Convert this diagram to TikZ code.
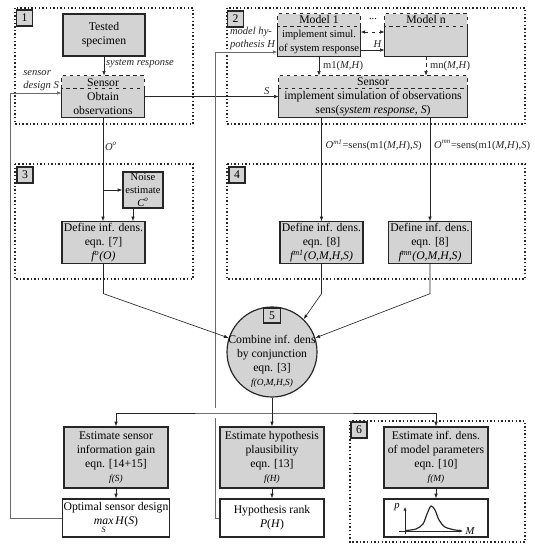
\documentclass[tikz,border=0pt]{standalone}
\usepackage{amsmath}
\usepackage{fontspec}
\setmainfont{Liberation Serif}
\usepackage{tikz}
\usetikzlibrary{arrows.meta,calc,positioning}
\definecolor{boxgray}{HTML}{D3D3D3}
\definecolor{inkline}{HTML}{262626}
\definecolor{softink}{HTML}{6A6A6A}

\tikzset{
  flowbox/.style={draw=inkline,line width=1pt,fill=boxgray,align=center,inner sep=1pt},
  resbox/.style={flowbox,fill=white},
  simbox/.style={fill=boxgray,align=center,inner sep=1pt},
  tag/.style={draw=inkline,line width=1pt,fill=boxgray,minimum size=0.48cm,inner sep=0pt},
  frame/.style={inkline,line width=1.1pt,dash pattern=on 1.2pt off 1.9pt},
  conn/.style={-{Latex[length=4pt,width=3pt]},inkline,line width=0.55pt},
  twoway/.style={conn,{Latex[length=4pt,width=3pt]}-{Latex[length=4pt,width=3pt]}},
  feedback/.style={conn,softink},
  lbl/.style={font=\small\itshape,text=inkline,inner sep=1.5pt}
}

\begin{document}
\begin{tikzpicture}[x=0.03cm,y=-0.03cm]
    \useasboundingbox (0,0) rectangle (535,550);

    % dotted groups
    \draw[frame] (15,8) rectangle (193,124);
    \draw[frame] (227,8) rectangle (525,124);
    \draw[frame] (15,164) rectangle (193,279);
    \draw[frame] (227,164) rectangle (525,279);
    \draw[frame] (350,421) rectangle (525,542);
    \node[tag] (tag1) at (24.5,18) {1};
    \node[tag] (tag2) at (235.5,19) {2};
    \node[tag] (tag3) at (25,175) {3};
    \node[tag] (tag4) at (237,175) {4};
    \node[tag] (tag6) at (359,430) {6};

    % experiment
    \node[flowbox,minimum width=2.46cm,minimum height=1.26cm] (specimen) at (104,35) {Tested\\specimen};
    \node[simbox,minimum width=2.46cm,minimum height=1.23cm] (sensobs) at (103,96.5) {Sensor\\Obtain\\observations};

    % models
    \node[simbox,minimum width=2.46cm,minimum height=1.26cm] (model1) at (319,35)
      {Model 1\\{\small implement simul.}\\{\small of system response}};
    \node[simbox,minimum width=2.46cm,minimum height=1.26cm] (modeln) at (426,35) {};
    \node[anchor=north,inner sep=1pt] (modelname) at (modeln.north) {Model n};
    \node[font=\small] (dots) at (373,19) {...};
    \node[simbox,minimum width=5.64cm,minimum height=1.23cm] (sensimpl) at (373,96.5)
      {Sensor\\implement simulation of observations\\sens(\textit{system response, S})};

    % boxes with a dashed sensor / model strip
    \foreach \n in {sensobs,sensimpl,model1,modeln} {
      \draw[inkline,line width=1pt] ($(\n.north west)+(0,13)$) |- (\n.south east) -- ($(\n.north east)+(0,13)$);
      \draw[inkline,line width=1pt,dashed] ($(\n.north west)+(0,13)$) rectangle (\n.north east);
    }

    % densities
    \node[flowbox,minimum width=1.2cm,minimum height=1.08cm,font=\small] (noise) at (143,190)
      {Noise\\estimate\\\textit{C\textsuperscript{o}}};
    \node[flowbox,minimum width=2.49cm,minimum height=1.23cm] (dens0) at (103.5,242.5)
      {Define inf. dens.\\eqn. [7]\\\textit{f\textsuperscript{o}(O)}};
    \node[flowbox,minimum width=2.49cm,minimum height=1.23cm] (dens1) at (321.5,242.5)
      {Define inf. dens.\\eqn. [8]\\\textit{f\textsuperscript{m1}(O,M,H,S)}};
    \node[flowbox,minimum width=2.49cm,minimum height=1.23cm] (densn) at (430,242.5)
      {Define inf. dens.\\eqn. [8]\\\textit{f\textsuperscript{mn}(O,M,H,S)}};

    % conjunction
    \node[circle,draw=inkline,line width=1pt,fill=boxgray,minimum size=2.7cm,inner sep=0pt] (combine) at (272,352) {};
    \node[align=center,inner sep=0pt] (combinetxt) at (272,361)
      {Combine inf. dens\\by conjunction\\eqn. [3]\\{\footnotesize\itshape f(O,M,H,S)}};
    \node[tag,minimum width=0.51cm,minimum height=0.45cm] (tag5) at (272,315.5) {5};

    % estimates
    \node[flowbox,minimum width=3.12cm,minimum height=1.83cm] (gain) at (116,457.5)
      {Estimate sensor\\information gain\\eqn. [14+15]\\{\footnotesize\itshape f(S)}};
    \node[flowbox,minimum width=3.12cm,minimum height=1.83cm] (plaus) at (272,457.5)
      {Estimate hypothesis\\plausibility\\eqn. [13]\\{\footnotesize\itshape f(H)}};
    \node[flowbox,minimum width=3.12cm,minimum height=1.83cm] (params) at (436,457.5)
      {Estimate inf. dens.\\of model parameters\\eqn. [10]\\{\footnotesize\itshape f(M)}};
    \node[resbox,minimum width=3.12cm,minimum height=1.14cm] (design) at (116,518)
      {Optimal sensor design\\$\mathop{\textit{max}}\limits_{\textit{S}}$\,\textit{H}(\textit{S})};
    \node[resbox,minimum width=3.12cm,minimum height=1.14cm] (rank) at (272,518)
      {Hypothesis rank\\\textit{P}(\textit{H})};
    \node[resbox,minimum width=3.12cm,minimum height=1.14cm] (pdf) at (436,518) {};

    % small density sketch
    \draw[-{Latex[length=3pt,width=2.5pt]},inkline,line width=0.5pt] (405,534) -- (405,507);
    \draw[-{Latex[length=3pt,width=2.5pt]},inkline,line width=0.5pt] (399,531) -- (463,531);
    \node[font=\small\itshape,inner sep=1pt] (paxis) at (397,507) {p};
    \node[font=\small\itshape,inner sep=1pt] (maxis) at (470,531) {M};
    \draw[inkline,line width=1pt]
      plot[smooth] coordinates {(406,530.5) (416,529) (423,524) (427,514) (431,506) (435,510) (439,520) (445,527) (455,530) (461,530.5)};

    % connectors
    \draw[conn] (specimen.south) -- node[lbl,right,pos=0.35] {system response} (specimen.south |- sensobs.north);
    \coordinate (sdesign) at (10,93);
    \draw[feedback] (design.west) -| (sdesign) -- node[lbl,above,align=left,pos=0.6] {sensor\\design S} (sdesign -| sensobs.west);
    \draw[conn] (sensobs.east) -- node[lbl,above,pos=0.91] {S} (sensobs.east -| sensimpl.west);

    \coordinate (hypbot) at (215,418);
    \coordinate (hyptop) at (215,408);
    \coordinate (hypcorner) at (215,52);
    \draw[feedback,-] (rank.west) -| (hypbot);
    \draw[feedback] (hyptop) -- (hypcorner) -- node[lbl,above,align=left,pos=0.6] {model hy-\\pothesis H} (hypcorner -| model1.west);

    \draw[conn] ($(model1.east)+(0,15)$) -- node[lbl,above,pos=0.7] {H} ($(modeln.west)+(0,15)$);
    \draw[twoway,dashed] ($(model1.east)+(0,-3)$) -- ($(modeln.west)+(0,-3)$);
    \draw[conn] (model1.south) -- node[right,font=\small] {m1(\textit{M,H})} (model1.south |- sensimpl.north);
    \draw[conn,dashed] (modeln.south) -- node[right,font=\small] {mn(\textit{M,H})} (modeln.south |- sensimpl.north);

    \draw[conn] (sensimpl.south -| dens1.north) -- node[right,font=\small,pos=0.27]
      {\textit{O\textsuperscript{m1}}=sens(m1(\textit{M,H}),\textit{S})} (dens1.north);
    \draw[conn] (sensimpl.south -| densn.north) -- node[right,font=\small,pos=0.27]
      {\textit{O\textsuperscript{mn}}=sens(m1(\textit{M,H}),\textit{S})} (densn.north);

    \draw[conn] (sensobs.south) -- node[lbl,right,pos=0.28] {O\textsuperscript{o}} (sensobs.south |- dens0.north);
    \draw[conn] (sensobs.south |- noise.west) -- (noise.west);
    \coordinate (noisefoot) at ($(noise.south)+(-10,0)$);
    \draw[conn] (noisefoot) -- (noisefoot |- dens0.north);

    \draw[conn] (dens0.south) -- ++(0,30) -- (combine.162);
    \draw[conn] (dens1.south) -- ++(0,30) -- (combine.46);
    \draw[conn] (densn.south) -- ++(0,30) -- (combine.18);

    \coordinate (split) at (272,413);
    \draw[conn] (combine.south) -- (plaus.north);
    \draw[twoway] (gain.north) |- (split) -| (params.north);
    \draw[conn] (gain.south) -- (design.north);
    \draw[conn] (plaus.south) -- (rank.north);
    \draw[conn] (params.south) -- (pdf.north);
  \end{tikzpicture}
\end{document}
